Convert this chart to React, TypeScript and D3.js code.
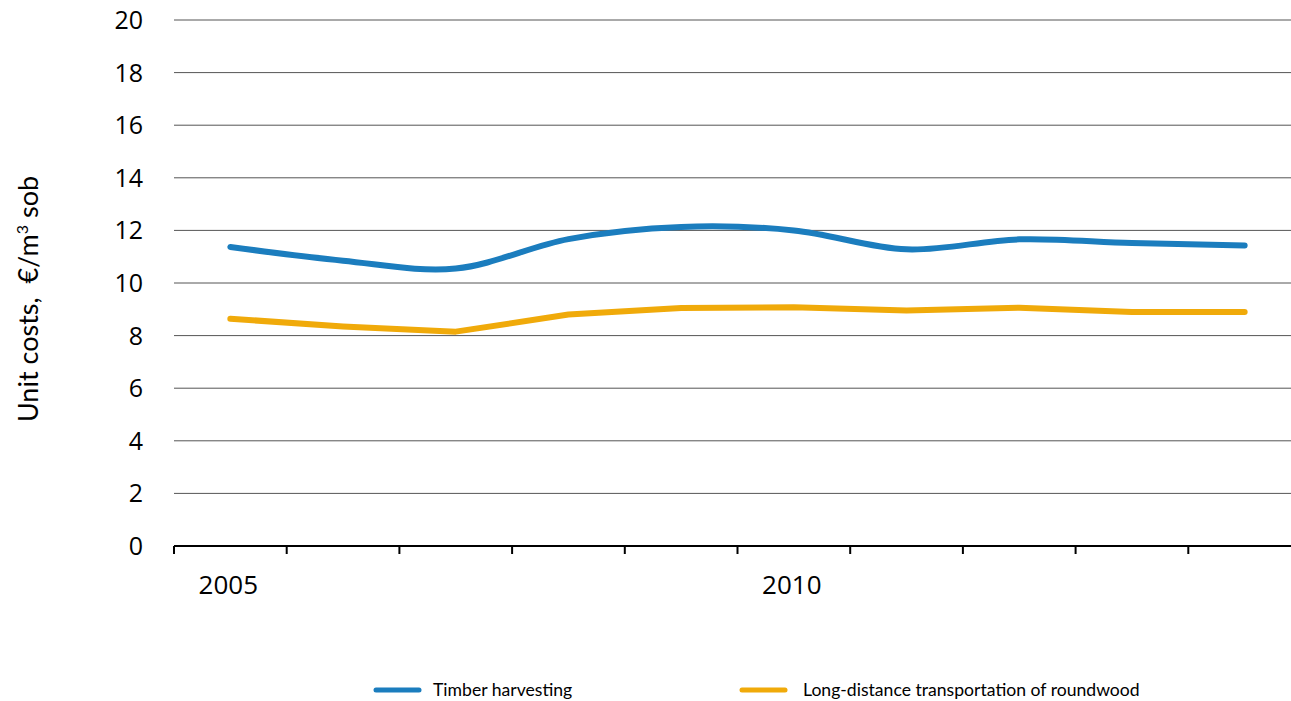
import React from "react";
import * as d3 from "d3";

const years = ["2005","2006","2007","2008","2009","2010","2011","2012","2013","2014"];
const timberHarvesting = [11.37, 10.85, 10.55, 11.67, 12.13, 12.0, 11.28, 11.66, 11.52, 11.43];
const longDistanceTransport = [8.64, 8.35, 8.15, 8.8, 9.05, 9.08, 8.95, 9.06, 8.9, 8.9];
const yTicks = [0, 2, 4, 6, 8, 10, 12, 14, 16, 18, 20];
const xLabelYears = ["2005", "2010"];
const seriesNames = ["Timber harvesting", "Long-distance transportation of roundwood"];

const W = 1291, H = 701;
const TICK_FONT = "'Open Sans', sans-serif";
const FONT = "Lato, 'Open Sans', sans-serif";

export default function App() {
  const x = d3.scaleBand().domain(years).range([174, 1301]);
  const y = d3.scaleLinear().domain([0, 20]).range([546, 20]);
  const cx = (d: string) => (x(d) as number) + x.bandwidth() / 2;

  const blueLine = d3.line<number>()
    .x((_, i) => cx(years[i]))
    .y((v) => y(v))
    .curve(d3.curveCardinal.tension(0));
  const orangeLine = d3.line<number>()
    .x((_, i) => cx(years[i]))
    .y((v) => y(v))
    .curve(d3.curveLinear);

  const tickXs = years.map((yr) => x(yr) as number).concat([x.range()[1]]);

  return (
    <svg width={W} height={H} style={{ position: "absolute", left: 0, top: 0, background: "#fff" }}>
      {yTicks.filter((t) => t > 0).map((t) => (
        <line key={t} x1={174} x2={1291} y1={y(t)} y2={y(t)} stroke="#555" strokeWidth={1} />
      ))}
      {yTicks.map((t) => (
        <text key={"l" + t} x={143} y={y(t)} dy="0.36em" textAnchor="end" fontFamily={TICK_FONT} fontSize={25} fill="#000">{t}</text>
      ))}
      <line x1={174} x2={1291} y1={y(0)} y2={y(0)} stroke="#000" strokeWidth={2} />
      {tickXs.map((tx, i) => (
        <line key={"t" + i} x1={tx} x2={tx} y1={y(0)} y2={y(0) + 8} stroke="#000" strokeWidth={2} />
      ))}
      {xLabelYears.map((yr) => (
        <text key={yr} x={cx(yr) - 2} y={594} textAnchor="middle" fontFamily={TICK_FONT} fontSize={26} fill="#000">{yr}</text>
      ))}
      <text transform={`translate(38,299) rotate(-90)`} textAnchor="middle" fontFamily={FONT} fontSize={27} fill="#000">
        Unit costs,{"\u00a0\u00a0"}€/m<tspan dy={-10} fontSize={16}>3</tspan><tspan dy={10}> sob</tspan>
      </text>
      <path d={blueLine(timberHarvesting) || ""} fill="none" stroke="#1B7DBE" strokeWidth={6} strokeLinecap="round" strokeLinejoin="round" />
      <path d={orangeLine(longDistanceTransport) || ""} fill="none" stroke="#F0AA0A" strokeWidth={6} strokeLinecap="round" strokeLinejoin="round" />
      <line x1={376} x2={419} y1={690} y2={690} stroke="#1B7DBE" strokeWidth={5} strokeLinecap="round" />
      <text x={433} y={696} fontFamily={FONT} fontSize={17.6} fill="#000">{seriesNames[0]}</text>
      <line x1={742} x2={785} y1={690} y2={690} stroke="#F0AA0A" strokeWidth={5} strokeLinecap="round" />
      <text x={803} y={696} fontFamily={FONT} fontSize={17.6} fill="#000">{seriesNames[1]}</text>
    </svg>
  );
}
